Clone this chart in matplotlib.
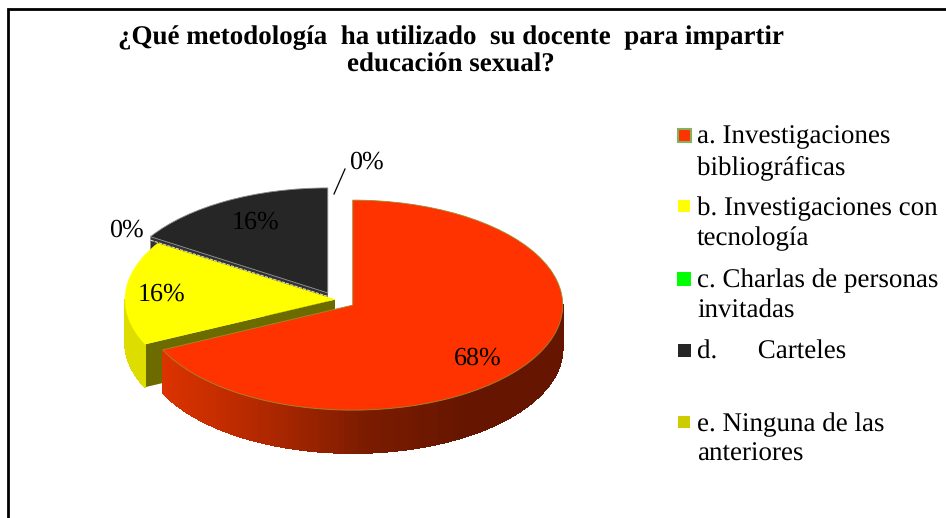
import matplotlib.pyplot as plt
import numpy as np
from matplotlib.collections import PolyCollection
from matplotlib.colors import LinearSegmentedColormap
from matplotlib.patches import Polygon, Rectangle

plt.rcParams['font.family'] = ['Liberation Serif', 'DejaVu Serif']
plt.rcParams['text.hinting'] = 'no_hinting'
plt.rcParams['text.hinting_factor'] = 1

W, H = 946, 518
title_lines = ['¿Qué metodología  ha utilizado  su docente  para impartir', 'educación sexual?']
categories = [
    'a. Investigaciones\nbibliográficas',
    'b. Investigaciones con\ntecnología',
    'c. Charlas de personas\ninvitadas',
    'd.      Carteles',
    'e. Ninguna de las\nanteriores',
]
values = [68, 16, 0, 16, 0]
explode = [21, 0, 0, 15, 0]
colors = ['#ff3300', '#ffff00', '#00ff00', '#262626', '#cccc00']
cut_colors = ['#a02000', '#6b6b00', '#00a000', '#333333', '#808000']
pct_labels = ['68%', '16%', '0%', '16%', '0%']
pct_pos = [(478, 358), (162, 294), (126, 230), (256, 222), (366, 162)]

DEPTH = 43
R = 210


# 1 unidad en y = medio pixel, asi el circulo del pie queda aplastado
def yd(py):
    return 2 * (H - py)


fig = plt.figure(figsize=(W / 100, H / 100), dpi=100)
ax = fig.add_axes([0, 0, 1, 1])
wedges, _ = ax.pie(values, explode=explode, colors=colors, startangle=90, counterclock=False,
                   center=(335, 437), radius=R, normalize=True, wedgeprops={'zorder': 10})
ax.set_aspect('auto')
ax.set_xlim(0, W)
ax.set_ylim(0, 2 * H)
ax.axis('off')

wedges[0].set(edgecolor='#a08a30', linewidth=0.6)
wedges[1].set(edgecolor='#ffff00', linewidth=0.3)
wedges[3].set(edgecolor='#8c8c8c', linewidth=0.6)

red_cmap = LinearSegmentedColormap.from_list('red_side', ['#dc3300', '#b02800', '#7c1c00', '#661600', '#661600'])

for i in [3, 1, 0]:
    w = wedges[i]
    cx, cy = w.center
    low = w.theta1
    high = w.theta2
    xb = cx + R * np.cos(np.radians(high))
    yb = cy + R * np.sin(np.radians(high))

    # cara del corte, la que mira hacia abajo
    if i == 1:
        ax.add_patch(Polygon([(cx, cy), (xb, yb), (xb, yb - 2 * DEPTH), (cx, cy - 2 * DEPTH)], closed=True,
                             facecolor=cut_colors[i], edgecolor='none', zorder=4))
    if i == 3:
        ax.add_patch(Polygon([(cx, cy), (xb, yb), (xb, yb - 2 * DEPTH), (cx, cy - 2 * DEPTH)], closed=True,
                             facecolor=cut_colors[i], edgecolor='none', zorder=2))
        # linea clara entre el negro y el amarillo
        ax.plot([xb, cx], [yb - 7, cy - 7], color='#d8d8d8', lw=0.8, ls=(0, (3, 1)), zorder=3)

    # lado curvo, solo la parte de adelante
    if i == 0:
        thetas = np.radians(np.linspace(low, 0, 90))
    elif i == 1:
        thetas = np.radians(np.linspace(180, high + 360, 20))
    else:
        continue
    px = cx + R * np.cos(thetas)
    py = cy + R * np.sin(thetas)
    polys = []
    cols = []
    for a in range(len(thetas) - 1):
        polys.append([(px[a], py[a]), (px[a + 1], py[a + 1]),
                      (px[a + 1], py[a + 1] - 2 * DEPTH), (px[a], py[a] - 2 * DEPTH)])
        cols.append(red_cmap((px[a] - 162) / 400) if i == 0 else '#dddd00')
    ax.add_collection(PolyCollection(polys, facecolors=cols, edgecolors=cols, linewidths=0.5,
                                     antialiaseds=False, zorder=5))

for lab, (px_, py_) in zip(pct_labels, pct_pos):
    ax.text(px_, yd(py_), lab, fontsize=18.5, ha='center', va='center', color='black', zorder=20)
ax.plot([334, 345], [yd(194), yd(169)], color='black', lw=0.9, zorder=20)

ax.text(451, yd(38), title_lines[0], fontsize=19.4, fontweight='bold', ha='center', va='center')
ax.text(451, yd(65), title_lines[1], fontsize=19.4, fontweight='bold', ha='center', va='center')

marker_y = [135, 206, 279, 350, 422]
marker_size = [13, 12, 14, 13, 12]
baselines = [[143, 174], [215, 245], [287, 318], [359], [431, 461]]
for i, lab in enumerate(categories):
    s = marker_size[i]
    ax.add_patch(Rectangle((684 - s / 2, yd(marker_y[i] + s / 2)), s, s * 2, facecolor=colors[i],
                           edgecolor='#86b060' if i == 0 else 'none', lw=1.5 if i == 0 else 0, zorder=20))
    for line, base in zip(lab.split('\n'), baselines[i]):
        ax.text(697, yd(base), line, fontsize=19.15, ha='left', va='baseline', zorder=20)

# marco: arriba e izquierda, abajo no tiene
ax.plot([7.5, 7.5, W], [0, yd(8.5), yd(8.5)], color='black', lw=2, solid_joinstyle='miter', clip_on=False, zorder=30)
fig.savefig('out.png', dpi=100)
plt.close(fig)
